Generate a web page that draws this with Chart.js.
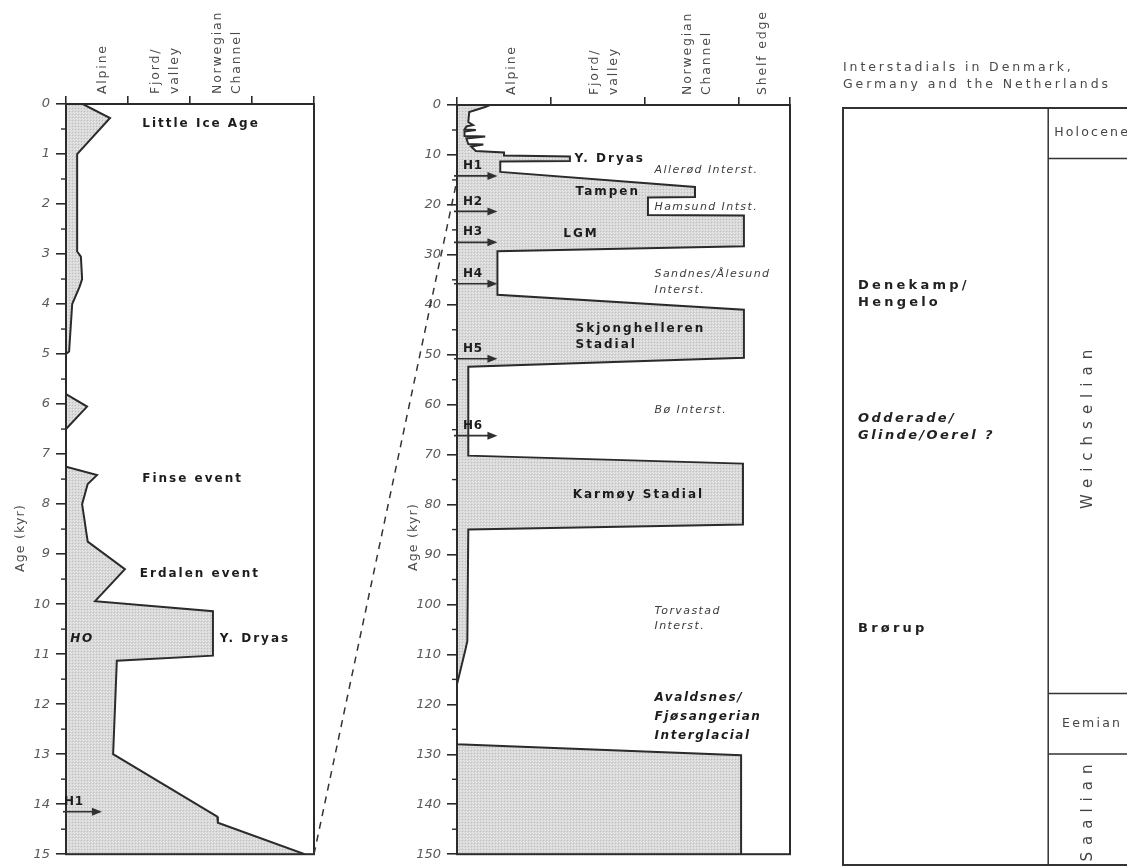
<!DOCTYPE html>
<html>
<head>
<meta charset="utf-8">
<title>Ice extent in western Norway through the last glacial cycle</title>
<script src="https://cdn.jsdelivr.net/npm/chart.js@4.4.1/dist/chart.umd.min.js"></script>
<style>
  html, body { margin: 0; padding: 0; background: #fff; overflow: hidden; }
  #wrap { position: relative; width: 1127px; height: 868px; overflow: hidden; }
  canvas { position: absolute; top: 0; }
  #holo { left: 0; }
  #glac { left: 300px; }
  #strat { left: 810px; }
</style>
</head>
<body>
<div id="wrap">
  <canvas id="holo" width="330" height="868"></canvas>
  <canvas id="glac" width="510" height="868"></canvas>
  <canvas id="strat" width="330" height="868"></canvas>
</div>
<script>
// ---------------- data ----------------
// Late-glacial and Holocene ice extent, 0-15 kyr (0 = no ice, 1 = alpine, 2 = fjord/valley, 3 = Norwegian Channel)
const holoAge    = [0, 0.28, 1.0, 2.95, 3.05, 3.5, 3.65, 4.0, 4.95, 5.0, 5.8, 6.05, 6.5, 7.25, 7.42, 7.6, 8.0, 8.75, 9.3, 9.94, 10.14, 11.03, 11.13, 13.0, 14.25, 14.37, 15.0];
const holoExtent = [0.27, 0.71, 0.18, 0.18, 0.24, 0.26, 0.22, 0.10, 0.05, 0, 0, 0.34, 0, 0, 0.50, 0.35, 0.26, 0.35, 0.95, 0.47, 2.37, 2.37, 0.82, 0.76, 2.44, 2.45, 3.85];
const holoZones  = [['Alpine'], ['Fjord/', 'valley'], ['Norwegian', 'Channel']];
const holoHeinrichNames = ['H1'];
const holoHeinrichAges  = [14.15];

// Ice extent through the last glacial cycle, 0-150 kyr (4th class = shelf edge)
const glacAge    = [0, 0.4, 1.4, 3.4, 4.0, 4.3, 4.9, 5.0, 5.3, 6.2, 6.3, 6.7, 7.8, 7.9, 8.3, 9.2, 9.5, 10.1, 10.3, 11.2, 11.3, 13.4, 16.4, 18.4, 18.5, 22.0, 22.1, 28.3, 29.3, 38.0, 41.0, 50.6, 52.4, 70.2, 71.8, 84.0, 85.0, 107.3, 109.0, 116.0, 128.0, 130.2, 150.0];
const glacExtent = [0.35, 0.30, 0.13, 0.12, 0.17, 0.10, 0.08, 0.20, 0.08, 0.08, 0.30, 0.10, 0.12, 0.28, 0.15, 0.20, 0.50, 0.50, 1.20, 1.20, 0.46, 0.46, 2.53, 2.53, 2.03, 2.03, 3.05, 3.05, 0.43, 0.43, 3.05, 3.05, 0.12, 0.12, 3.04, 3.04, 0.12, 0.11, 0.09, 0, 0, 3.02, 3.02];
const glacZones  = [['Alpine'], ['Fjord/', 'valley'], ['Norwegian', 'Channel'], ['Shelf edge']];
const heinrichNames = ['H1', 'H2', 'H3', 'H4', 'H5', 'H6'];
const heinrichAges  = [14.2, 21.3, 27.5, 35.8, 50.8, 66.2];

// Chronostratigraphy and continental interstadials, same age scale
const stageNames  = ['Holocene', 'Weichselian', 'Eemian', 'Saalian'];
const stageBounds = [0, 10, 116, 128, 150];
const stageVertical = [false, true, false, true];
const interstadialNames = [['Denekamp/', 'Hengelo'], ['Odderade/', 'Glinde/Oerel ?'], ['Brørup']];
const interstadialAges  = [36.8, 63.2, 103.2];

// ---------------- styling ----------------
const FAMILY = '"DejaVu Sans", Verdana, sans-serif';
const STYLES = {
  b:  { font: `bold 12px ${FAMILY}`,        spacing: 2.0, color: '#1c1c1c' },
  bi: { font: `italic bold 12px ${FAMILY}`, spacing: 1.6, color: '#1c1c1c' },
  i:  { font: `italic 11px ${FAMILY}`,      spacing: 1.4, color: '#3c3c3c' },
  r:  { font: `12.5px ${FAMILY}`,           spacing: 1.8, color: '#4a4a4a' }
};
const INK = '#2b2b2b';

function stipple() {
  const c = document.createElement('canvas');
  c.width = 3; c.height = 3;
  const g = c.getContext('2d');
  g.fillStyle = '#d7d7d7'; g.fillRect(0, 0, 3, 3);
  g.fillStyle = '#c0c0c0'; g.fillRect(0, 0, 1, 1);
  g.fillStyle = '#e9e9e9'; g.fillRect(1, 1, 1, 1); g.fillRect(2, 2, 1, 1);
  return g.createPattern(c, 'repeat');
}
const STIPPLE = stipple();

function drawText(ctx, text, x, y, st, opt = {}) {
  ctx.save();
  ctx.font = st.font;
  ctx.fillStyle = st.color;
  ctx.letterSpacing = (opt.spacing != null ? opt.spacing : st.spacing) + 'px';
  ctx.textAlign = opt.align || 'left';
  ctx.textBaseline = 'middle';
  ctx.translate(x, y);
  if (opt.rot) ctx.rotate(opt.rot);
  ctx.fillText(text, 0, 0);
  ctx.restore();
}

function drawArrow(ctx, x0, x1, y) {
  ctx.save();
  ctx.strokeStyle = '#303030'; ctx.fillStyle = '#303030'; ctx.lineWidth = 1.6;
  ctx.beginPath(); ctx.moveTo(x0, y); ctx.lineTo(x1 - 7, y); ctx.stroke();
  ctx.beginPath(); ctx.moveTo(x1, y); ctx.lineTo(x1 - 10, y - 4); ctx.lineTo(x1 - 10, y + 4); ctx.closePath(); ctx.fill();
  ctx.restore();
}

// Frame, minor ticks, zone names, titles, event names and Heinrich arrows
function profileDecor(cfg) {
  return {
    id: 'profileDecor',
    afterDatasetsDraw(chart) {
      const { ctx, chartArea: A, scales: { x, y } } = chart;
      ctx.save();
      ctx.strokeStyle = INK; ctx.lineWidth = 2;
      ctx.strokeRect(A.left, A.top, A.right - A.left, A.bottom - A.top);
      ctx.lineWidth = 1.4;
      for (let v = cfg.yStep / 2; v < cfg.yMax; v += cfg.yStep) {
        const py = y.getPixelForValue(v);
        ctx.beginPath(); ctx.moveTo(A.left - 5, py); ctx.lineTo(A.left, py); ctx.stroke();
      }
      ctx.restore();

      cfg.zones.forEach((lines, i) => {
        const cx = x.getPixelForValue(cfg.zoneAt[i]);
        lines.forEach((s, j) => {
          const dx = (j - (lines.length - 1) / 2) * 19;
          drawText(ctx, s, cx + dx, A.top - 10, STYLES.r, { rot: -Math.PI / 2 });
        });
      });

      drawText(ctx, 'Age (kyr)', cfg.titleX, cfg.titleY, STYLES.r, { rot: -Math.PI / 2, align: 'center', spacing: 1.2 });

      cfg.notes.forEach(n => {
        const px = x.getPixelForValue(n.x), py = y.getPixelForValue(n.age);
        n.text.forEach((s, j) => drawText(ctx, s, px, py + j * (n.lh || 16), STYLES[n.s]));
      });

      cfg.hAges.forEach((age, i) => {
        const py = y.getPixelForValue(age);
        drawArrow(ctx, A.left - 3, x.getPixelForValue(cfg.arrowLen), py);
        drawText(ctx, cfg.hNames[i], A.left + cfg.hDx, py - 10, STYLES.b, { spacing: 0.8 });
      });

      if (cfg.link) {
        const other = cfg.link.chart();
        const sx = other.scales.x.getPixelForValue(other.scales.x.max) + cfg.link.dx;
        const sy = other.scales.y.getPixelForValue(other.scales.y.max);
        const ex = x.getPixelForValue(0), ey = y.getPixelForValue(cfg.link.age);
        ctx.save();
        ctx.strokeStyle = '#333'; ctx.lineWidth = 1.5; ctx.setLineDash([7, 6]);
        ctx.beginPath(); ctx.moveTo(sx, sy); ctx.lineTo(ex, ey); ctx.stroke();
        ctx.restore();
      }
    }
  };
}

function profileChart(canvas, cfg) {
  const data = cfg.age.map((a, i) => ({ x: cfg.extent[i], y: a }));
  return new Chart(canvas, {
    type: 'line',
    data: { datasets: [{
      data, indexAxis: 'y', fill: 'origin', backgroundColor: STIPPLE,
      borderColor: INK, borderWidth: 2, pointRadius: 0, tension: 0, borderJoinStyle: 'miter'
    }] },
    options: {
      responsive: false, animation: false, events: [], indexAxis: 'y',
      layout: { padding: cfg.padding },
      plugins: { legend: { display: false }, tooltip: { enabled: false } },
      scales: {
        x: {
          type: 'linear', position: 'top', min: 0, max: cfg.xMax,
          afterBuildTicks: s => { s.ticks = cfg.xTicks.map(v => ({ value: v })); },
          afterFit: s => { s.height = cfg.topH; },
          ticks: { display: false },
          grid: { drawOnChartArea: false, tickLength: 8, color: INK, lineWidth: 1.6 },
          border: { color: INK, width: 2 }
        },
        y: {
          type: 'linear', position: 'left', reverse: true, min: 0, max: cfg.yMax,
          afterBuildTicks: s => {
            const t = [];
            for (let v = 0; v <= cfg.yMax; v += cfg.yStep) t.push({ value: v });
            s.ticks = t;
          },
          afterFit: s => { s.width = cfg.leftW; },
          ticks: { color: '#5a5a5a', padding: 6, font: { family: FAMILY, size: 13, style: 'italic' } },
          grid: { drawOnChartArea: false, tickLength: 10, color: INK, lineWidth: 1.6 },
          border: { color: INK, width: 2 }
        }
      }
    },
    plugins: [profileDecor(cfg)]
  });
}

const holoChart = profileChart(document.getElementById('holo'), {
  age: holoAge, extent: holoExtent, zones: holoZones, zoneAt: [0.6, 1.6, 2.6],
  xMax: 4, xTicks: [0, 1, 2, 3, 4], yMax: 15, yStep: 1,
  padding: { left: 0, top: 0, right: 16, bottom: 8 }, leftW: 66, topH: 104,
  titleX: 21, titleY: 538,
  hNames: holoHeinrichNames, hAges: holoHeinrichAges, arrowLen: 0.58, hDx: -2,
  notes: [
    { text: ['Little Ice Age'], x: 1.23, age: 0.4,  s: 'b' },
    { text: ['Finse event'],    x: 1.23, age: 7.5,  s: 'b' },
    { text: ['Erdalen event'],  x: 1.19, age: 9.4,  s: 'b' },
    { text: ['Y. Dryas'],       x: 2.48, age: 10.7, s: 'b' },
    { text: ['HO'],             x: 0.07, age: 10.7, s: 'bi' }
  ]
});

profileChart(document.getElementById('glac'), {
  age: glacAge, extent: glacExtent, zones: glacZones, zoneAt: [0.58, 1.57, 2.55, 3.25],
  xMax: 3.54, xTicks: [0, 1, 2, 3, 3.54], yMax: 150, yStep: 10,
  padding: { left: 0, top: 0, right: 20, bottom: 4 }, leftW: 157, topH: 105,
  titleX: 114, titleY: 537,
  hNames: heinrichNames, hAges: heinrichAges, arrowLen: 0.43, hDx: 6,
  link: { chart: () => holoChart, dx: -300, age: 15 },
  notes: [
    { text: ['Y. Dryas'],                 x: 1.25, age: 10.7,  s: 'b' },
    { text: ['Allerød Interst.'],         x: 2.10, age: 13.0,  s: 'i' },
    { text: ['Tampen'],                   x: 1.26, age: 17.4,  s: 'b' },
    { text: ['Hamsund Intst.'],           x: 2.10, age: 20.4,  s: 'i' },
    { text: ['LGM'],                      x: 1.13, age: 25.9,  s: 'b' },
    { text: ['Sandnes/Ålesund', 'Interst.'], x: 2.10, age: 33.8, s: 'i', lh: 16 },
    { text: ['Skjonghelleren', 'Stadial'], x: 1.26, age: 44.9, s: 'b', lh: 16 },
    { text: ['Bø Interst.'],              x: 2.10, age: 61.1,  s: 'i' },
    { text: ['Karmøy Stadial'],           x: 1.23, age: 78.0,  s: 'b' },
    { text: ['Torvastad', 'Interst.'],    x: 2.10, age: 101.4, s: 'i', lh: 15 },
    { text: ['Avaldsnes/', 'Fjøsangerian', 'Interglacial'], x: 2.10, age: 118.8, s: 'bi', lh: 19 }
  ]
});

// Stratigraphic columns drawn on a hidden 0-150 kyr axis
const stratDecor = {
  id: 'stratDecor',
  afterDraw(chart) {
    const { ctx, chartArea: A, scales: { x, y } } = chart;
    const split = x.getPixelForValue(0.72);
    const top = y.getPixelForValue(stageBounds[0]);
    const bottom = y.getPixelForValue(stageBounds[stageBounds.length - 1]);
    ctx.save();
    ctx.strokeStyle = '#333';
    ctx.lineWidth = 2;
    ctx.strokeRect(A.left, top, A.right - A.left, bottom - top);
    ctx.lineWidth = 1.5;
    ctx.beginPath(); ctx.moveTo(split, top); ctx.lineTo(split, bottom); ctx.stroke();
    for (let i = 1; i < stageBounds.length - 1; i++) {
      const py = y.getPixelForValue(stageBounds[i]);
      ctx.beginPath(); ctx.moveTo(split, py); ctx.lineTo(A.right, py); ctx.stroke();
    }
    ctx.restore();

    const cx = (split + A.right) / 2;
    stageNames.forEach((s, i) => {
      const cy = y.getPixelForValue((stageBounds[i] + stageBounds[i + 1]) / 2);
      if (stageVertical[i]) {
        drawText(ctx, s, cx, cy, { font: `15px ${FAMILY}`, spacing: 7, color: '#444' }, { rot: -Math.PI / 2, align: 'center' });
      } else {
        drawText(ctx, s, cx + 4, cy, { font: `12.5px ${FAMILY}`, spacing: 2.2, color: '#444' }, { align: 'center' });
      }
    });

    interstadialNames.forEach((lines, i) => {
      const py = y.getPixelForValue(interstadialAges[i]);
      const st = i === 1 ? { font: `italic bold 13px ${FAMILY}`, spacing: 2.4, color: '#222' }
                         : { font: `bold 13px ${FAMILY}`, spacing: 3.2, color: '#222' };
      lines.forEach((s, j) => drawText(ctx, s, x.getPixelForValue(0.053), py + (j - (lines.length - 1) / 2) * 17, st));
    });

    const head = { font: `12.5px ${FAMILY}`, spacing: 2.9, color: '#4a4a4a' };
    drawText(ctx, 'Interstadials in Denmark,', A.left, 68, head);
    drawText(ctx, 'Germany and the Netherlands', A.left, 85, head);
  }
};

new Chart(document.getElementById('strat'), {
  type: 'scatter',
  data: { datasets: [] },
  options: {
    responsive: false, animation: false, events: [],
    layout: { padding: { left: 33, right: 12, top: 108, bottom: 3 } },
    plugins: { legend: { display: false }, tooltip: { enabled: false } },
    scales: {
      x: { type: 'linear', min: 0, max: 1, display: false },
      y: { type: 'linear', min: 0, max: 150, reverse: true, display: false }
    }
  },
  plugins: [stratDecor]
});
</script>
</body>
</html>
